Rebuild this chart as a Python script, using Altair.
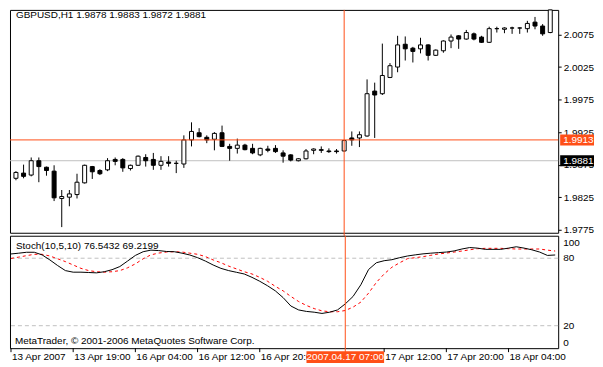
import altair as alt
import pandas as pd

# ---------------- data ----------------
opens = [1.9854, 1.9862, 1.9859, 1.9881, 1.9871, 1.9865, 1.9823, 1.9825, 1.9829, 1.9847,
         1.9872, 1.9866, 1.9867, 1.9883, 1.9883, 1.9869, 1.9874, 1.9886, 1.9883, 1.9874,
         1.9879, 1.9877, 1.9876, 1.9913, 1.9924, 1.9917, 1.9914, 1.9924, 1.9903, 1.9900,
         1.9905, 1.9900, 1.9890, 1.9899, 1.9900, 1.9893, 1.9890, 1.9881, 1.9884, 1.9897,
         1.9898, 1.9896, 1.9896, 1.9896, 1.9916, 1.9916, 1.9919, 1.9988, 1.9984, 2.0009,
         2.0025, 2.0060, 2.0054, 2.0053, 2.0059, 2.0043, 2.0050, 2.0065, 2.0073, 2.0068,
         2.0076, 2.0071, 2.0063, 2.0084, 2.0083, 2.0085, 2.0085, 2.0084, 2.0094, 2.0088,
         2.0078]
highs = [1.9865, 1.9875, 1.9886, 1.9886, 1.9872, 1.9874, 1.9836, 1.9836, 1.9861, 1.9875,
         1.9873, 1.9868, 1.9885, 1.9886, 1.9885, 1.9875, 1.9889, 1.9891, 1.9893, 1.9888,
         1.9888, 1.9881, 1.9920, 1.9940, 1.9931, 1.9920, 1.9925, 1.9935, 1.9907, 1.9915,
         1.9907, 1.9907, 1.9901, 1.9904, 1.9905, 1.9897, 1.9891, 1.9885, 1.9899, 1.9900,
         1.9903, 1.9900, 1.9899, 1.9913, 1.9926, 1.9926, 2.0006, 2.0001, 2.0061, 2.0031,
         2.0073, 2.0072, 2.0056, 2.0070, 2.0060, 2.0052, 2.0066, 2.0075, 2.0074, 2.0082,
         2.0078, 2.0073, 2.0087, 2.0087, 2.0086, 2.0087, 2.0086, 2.0096, 2.0102, 2.0091,
         2.0130]
lows = [1.9851, 1.9854, 1.9857, 1.9848, 1.9858, 1.9819, 1.9779, 1.9811, 1.9823, 1.9846,
        1.9853, 1.9859, 1.9865, 1.9874, 1.9864, 1.9866, 1.9873, 1.9872, 1.9867, 1.9867,
        1.9872, 1.9862, 1.9870, 1.9903, 1.9917, 1.9908, 1.9897, 1.9902, 1.9881, 1.9892,
        1.9897, 1.9891, 1.9888, 1.9894, 1.9893, 1.9878, 1.9880, 1.9880, 1.9883, 1.9891,
        1.9893, 1.9893, 1.9892, 1.9895, 1.9904, 1.9902, 1.9918, 1.9916, 1.9982, 2.0008,
        2.0017, 2.0035, 2.0032, 2.0046, 2.0035, 2.0042, 2.0047, 2.0054, 2.0053, 2.0067,
        2.0066, 2.0062, 2.0062, 2.0078, 2.0077, 2.0076, 2.0076, 2.0078, 2.0083, 2.0073,
        2.0077]
closes = [1.9863, 1.9857, 1.9881, 1.9872, 1.9866, 1.9824, 1.9826, 1.9830, 1.9848, 1.9874,
          1.9864, 1.9861, 1.9881, 1.9880, 1.9870, 1.9874, 1.9888, 1.9881, 1.9874, 1.9880,
          1.9877, 1.9877, 1.9913, 1.9926, 1.9918, 1.9913, 1.9923, 1.9903, 1.9900, 1.9905,
          1.9898, 1.9893, 1.9900, 1.9897, 1.9895, 1.9888, 1.9882, 1.9884, 1.9896, 1.9899,
          1.9897, 1.9895, 1.9895, 1.9912, 1.9913, 1.9921, 1.9984, 1.9982, 2.0012, 2.0027,
          2.0059, 2.0053, 2.0049, 2.0059, 2.0043, 2.0051, 2.0065, 2.0071, 2.0068, 2.0078,
          2.0068, 2.0063, 2.0084, 2.0084, 2.0085, 2.0085, 2.0085, 2.0092, 2.0088, 2.0076,
          2.0124]
stoch_main = [83.8, 84.5, 85.3, 85.3, 83.0, 78.5, 73.5, 69.0, 67.6, 67.6,
              67.3, 67.0, 68.0, 69.8, 72.6, 77.5, 82.5, 85.8, 87.2, 86.8,
              86.0, 85.8, 84.5, 82.9, 80.5, 77.5, 74.0, 71.0, 69.0, 67.5,
              66.0, 63.0, 59.5, 55.5, 51.0, 45.0, 37.5, 34.0, 32.7, 32.0,
              30.9, 32.0, 34.0, 39.4, 46.0, 56.4, 70.0, 76.0, 77.8, 78.7,
              80.5, 82.0, 83.0, 83.9, 84.5, 85.0, 85.5, 86.5, 88.2, 89.5,
              89.0, 87.9, 87.9, 87.9, 89.0, 90.2, 89.0, 87.5, 85.5, 82.5,
              82.9]
stoch_signal = [79.8, 81.0, 82.3, 83.5, 83.5, 82.0, 79.5, 77.0, 74.0, 71.0,
                69.0, 68.0, 67.6, 68.0, 69.0, 71.5, 75.0, 79.5, 83.0, 84.6,
                85.5, 85.8, 85.5, 84.5, 83.5, 81.5, 78.5, 76.0, 73.0, 70.5,
                68.0, 66.0, 63.0, 59.5, 55.0, 51.0, 46.0, 41.5, 38.0, 35.2,
                33.2, 32.4, 32.4, 33.5, 36.5, 41.0, 49.0, 58.5, 66.0, 72.0,
                76.0, 79.6, 80.5, 81.4, 82.6, 83.8, 84.6, 85.5, 86.4, 87.5,
                88.5, 88.8, 88.8, 88.8, 88.5, 88.2, 88.2, 88.2, 88.2, 87.2,
                86.4]
tick_bars = [0, 8, 16, 24, 32, 48, 56, 64]
tick_labels = ["13 Apr 2007", "13 Apr 19:00", "16 Apr 04:00", "16 Apr 12:00",
               "16 Apr 20:00", "17 Apr 12:00", "17 Apr 20:00", "18 Apr 04:00"]
price_ticks = [1.9775, 1.9825, 1.9875, 1.9925, 1.9975, 2.0025, 2.0075]
stoch_levels = [20, 80]
cross_bar = 43
cross_price = 1.9913
cross_time = "2007.04.17 07:00"
bid_price = 1.9881
header = "GBPUSD,H1  1.9878 1.9883 1.9872 1.9881"
stoch_title = "Stoch(10,5,10) 76.5432 69.2199"
copyright_text = "MetaTrader, \u00a9 2001-2006 MetaQuotes Software Corp."

FONT = "Liberation Sans"
FS = 10
ORANGE = "#ff4f17"
W = 551
H_MAIN = 224
H_STOCH = 113

df = pd.DataFrame({"i": list(range(len(opens))), "open": opens, "high": highs,
                   "low": lows, "close": closes})
df["top"] = df[["open", "close"]].max(axis=1)
df["bottom"] = df[["open", "close"]].min(axis=1)
df["dir"] = ["down" if c < o else "up" for o, c in zip(opens, closes)]

sdf = pd.DataFrame({"i": list(range(len(stoch_main))), "main": stoch_main,
                    "signal": stoch_signal})

x_scale = alt.Scale(domain=[-0.128, 70.386], nice=False, zero=False)
main_y = alt.Scale(domain=[1.97703, 2.01128], nice=False, zero=False, clamp=True)
stoch_y = alt.Scale(domain=[0, 100], nice=False, zero=False)

main_axis = alt.Axis(orient="right", values=price_ticks, format=".4f", tickSize=3,
                     tickColor="black", labelColor="black", labelFont=FONT,
                     labelFontSize=FS, labelPadding=2, domain=False, grid=False,
                     title=None)

X = alt.X("i:Q", scale=x_scale, axis=None)

# ---------------- main panel ----------------
bid_df = pd.DataFrame({"p": [bid_price], "t": [f"{bid_price:.4f}"]})
cross_df = pd.DataFrame({"p": [cross_price], "t": [f"{cross_price:.4f}"]})
vline_df = pd.DataFrame({"i": [cross_bar], "t": [cross_time]})

bid_line = alt.Chart(bid_df).mark_rule(color="#c0c0c0", strokeWidth=1).encode(
    y=alt.Y("p:Q", scale=main_y, axis=main_axis))

wicks = alt.Chart(df).mark_rule(color="black", strokeWidth=1).encode(
    x=X, y=alt.Y("low:Q", scale=main_y, axis=main_axis), y2="high:Q")

bodies = alt.Chart(df).mark_bar(width=4, stroke="black", strokeWidth=1).encode(
    x=X, y=alt.Y("bottom:Q", scale=main_y, axis=main_axis), y2="top:Q",
    fill=alt.Fill("dir:N", scale=alt.Scale(domain=["up", "down"], range=["white", "black"]),
                  legend=None))

cross_h = alt.Chart(cross_df).mark_rule(color=ORANGE, strokeWidth=1).encode(
    y=alt.Y("p:Q", scale=main_y, axis=main_axis))
cross_v = alt.Chart(vline_df).mark_rule(color=ORANGE, strokeWidth=1).encode(
    x=X, y=alt.value(0), y2=alt.value(H_MAIN + 3))

bid_box = alt.Chart(bid_df).mark_tick(orient="horizontal", thickness=11, size=34,
                                      color="black", opacity=1).encode(
    x=alt.value(W + 19), y=alt.Y("p:Q", scale=main_y, axis=main_axis))
bid_txt = alt.Chart(bid_df).mark_text(align="left", baseline="middle", color="white",
                                      font=FONT, fontSize=FS).encode(
    x=alt.value(W + 5), y=alt.Y("p:Q", scale=main_y, axis=main_axis), text="t:N")
cross_box = alt.Chart(cross_df).mark_tick(orient="horizontal", thickness=11, size=34,
                                          color=ORANGE, opacity=1).encode(
    x=alt.value(W + 19), y=alt.Y("p:Q", scale=main_y, axis=main_axis))
cross_txt = alt.Chart(cross_df).mark_text(align="left", baseline="middle", color="white",
                                          font=FONT, fontSize=FS).encode(
    x=alt.value(W + 5), y=alt.Y("p:Q", scale=main_y, axis=main_axis), text="t:N")

head = alt.Chart(pd.DataFrame({"t": [header]})).mark_text(
    align="left", baseline="middle", font=FONT, fontSize=FS, color="black").encode(
    x=alt.value(6), y=alt.value(5), text="t:N")

main = alt.layer(bid_line, wicks, bodies, cross_h, cross_v, bid_box, bid_txt,
                 cross_box, cross_txt, head).properties(width=W, height=H_MAIN)

# ---------------- stochastic panel ----------------
SY = alt.Y("v:Q", scale=stoch_y, axis=None)
lev_df = pd.DataFrame({"v": stoch_levels, "t": [str(v) for v in stoch_levels]})

levels = alt.Chart(lev_df).mark_rule(color="#c0c0c0", strokeWidth=1,
                                     strokeDash=[4, 3]).encode(y=SY)
lev_txt = alt.Chart(lev_df).mark_text(align="left", baseline="middle", font=FONT,
                                      fontSize=FS, color="black").encode(
    x=alt.value(W + 5), y=SY, text="t:N")
top_txt = alt.Chart(pd.DataFrame({"t": ["100"]})).mark_text(
    align="left", baseline="middle", font=FONT, fontSize=FS, color="black").encode(
    x=alt.value(W + 5), y=alt.value(7), text="t:N")
bot_txt = alt.Chart(pd.DataFrame({"t": ["0"]})).mark_text(
    align="left", baseline="middle", font=FONT, fontSize=FS, color="black").encode(
    x=alt.value(W + 5), y=alt.value(H_STOCH - 5), text="t:N")

sig_line = alt.Chart(sdf).mark_line(color="#ff0000", strokeWidth=1,
                                    strokeDash=[3, 3]).encode(
    x=X, y=alt.Y("signal:Q", scale=stoch_y, axis=None))
main_line = alt.Chart(sdf).mark_line(color="black", strokeWidth=1).encode(
    x=X, y=alt.Y("main:Q", scale=stoch_y, axis=None))

s_vline = alt.Chart(vline_df).mark_rule(color=ORANGE, strokeWidth=1).encode(
    x=X, y=alt.value(0), y2=alt.value(H_STOCH + 4))

tdf = pd.DataFrame({"i": tick_bars, "t": tick_labels})
xticks = alt.Chart(tdf).mark_rule(color="black", strokeWidth=1).encode(
    x=X, y=alt.value(H_STOCH), y2=alt.value(H_STOCH + 4))
xlabels = alt.Chart(tdf).mark_text(align="left", baseline="middle", font=FONT,
                                   fontSize=FS, color="black", dx=1).encode(
    x=X, y=alt.value(H_STOCH + 9), text="t:N")

time_box = alt.Chart(vline_df).mark_tick(orient="horizontal", thickness=12, size=78,
                                         color=ORANGE, opacity=1).encode(
    x=X, y=alt.value(H_STOCH + 9))
time_txt = alt.Chart(vline_df).mark_text(align="center", baseline="middle", font=FONT,
                                         fontSize=FS, color="white").encode(
    x=X, y=alt.value(H_STOCH + 9), text="t:N")

s_title = alt.Chart(pd.DataFrame({"t": [stoch_title]})).mark_text(
    align="left", baseline="middle", font=FONT, fontSize=FS, color="black").encode(
    x=alt.value(6), y=alt.value(10), text="t:N")
copy_txt = alt.Chart(pd.DataFrame({"t": [copyright_text]})).mark_text(
    align="left", baseline="middle", font=FONT, fontSize=FS, color="black").encode(
    x=alt.value(5), y=alt.value(H_STOCH - 7), text="t:N")

stoch = alt.layer(levels, lev_txt, top_txt, bot_txt, sig_line, main_line, s_vline,
                  xticks, xlabels, time_box, time_txt, s_title, copy_txt).properties(
    width=W, height=H_STOCH)

chart = alt.vconcat(main, stoch, spacing=3, bounds="flush").properties(
    padding=0, background="white").configure_view(stroke="black", strokeWidth=1)

chart.save("out.html", embed_options={"renderer": "svg", "actions": False})
